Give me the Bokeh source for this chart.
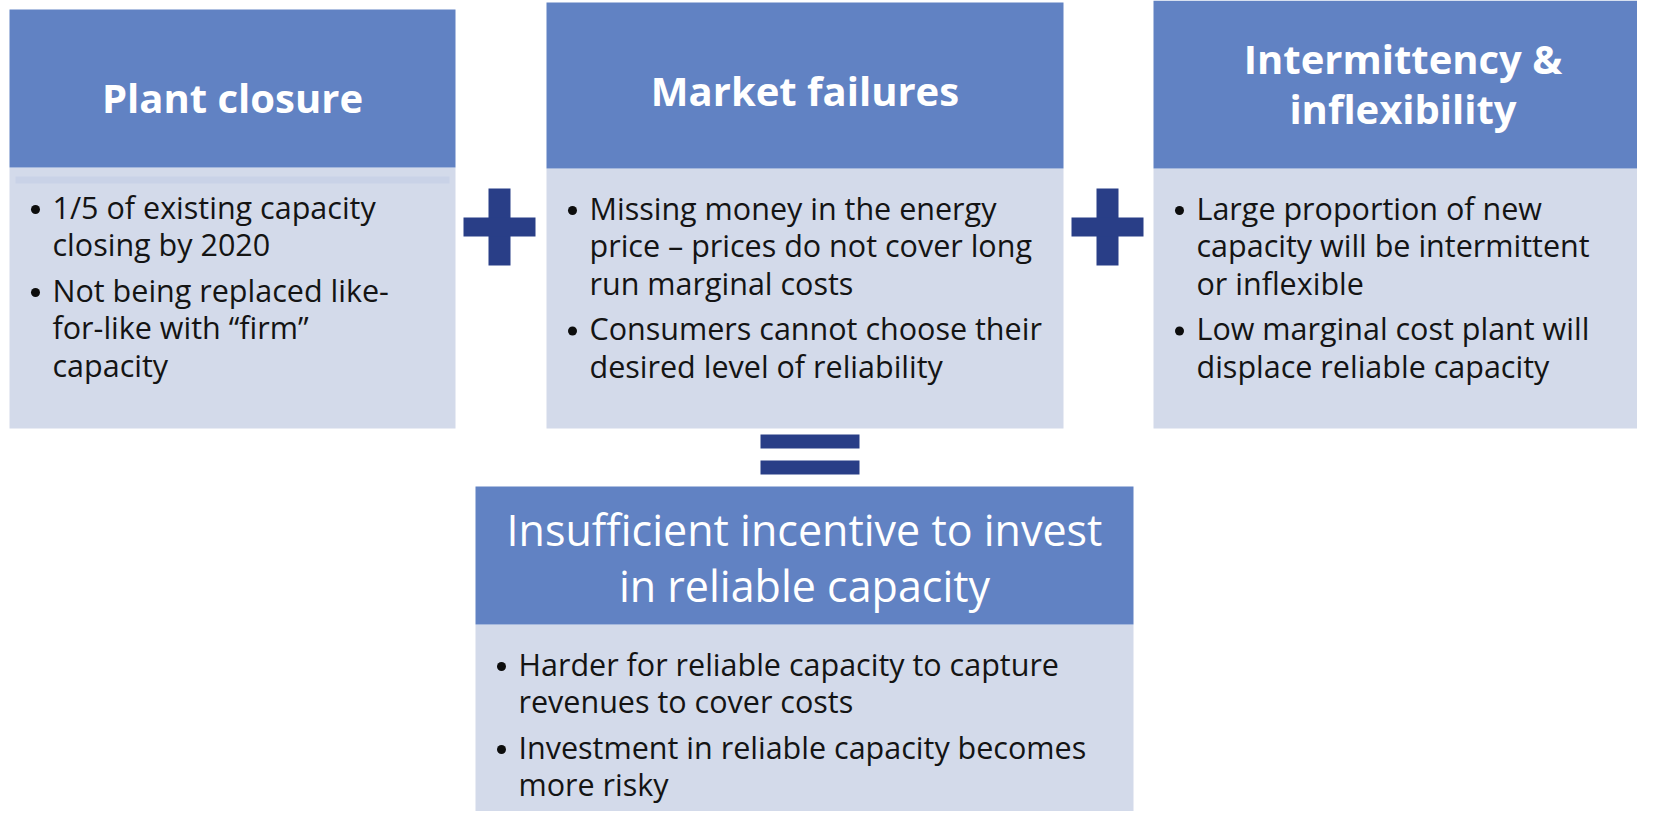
from bokeh.plotting import figure
from bokeh.models import Range1d
from bokeh.embed import file_html
from bokeh.resources import INLINE
from bokeh.core.properties import value

# ---- content ----
titles = [
    ["Plant closure"],
    ["Market failures"],
    ["Intermittency &", "inflexibility"],
    ["Insufficient incentive to invest", "in reliable capacity"],
]
title_bold = [True, True, True, False]
bullets = [
    [["1/5 of existing capacity", "closing by 2020"],
     ["Not being replaced like-", "for-like with \u201cfirm\u201d", "capacity"]],
    [["Missing money in the energy", "price \u2013 prices do not cover long", "run marginal costs"],
     ["Consumers cannot choose their", "desired level of reliability"]],
    [["Large proportion of new", "capacity will be intermittent", "or inflexible"],
     ["Low marginal cost plant will", "displace reliable capacity"]],
    [["Harder for reliable capacity to capture", "revenues to cover costs"],
     ["Investment in reliable capacity becomes", "more risky"]],
]

# ---- layout (pixel coordinates of the picture) ----
box_left = [9, 546, 1153, 475]
box_right = [455, 1063, 1652, 1133]
box_top = [9, 2, 0, 486]
head_bot = [167, 168, 168, 624]
box_bot = [428, 428, 428, 830]
title_y0 = [97, 90, 58, 529]
title_dy = [0, 0, 50, 56]
title_size = ["40px", "40px", "40px", "43px"]

HEAD = "#6182C3"
BODY = "#D3DAEA"
NAVY = "#293E87"
FONT = "Open Sans"

W, H = 1637, 811
p = figure(width=W, height=H, output_backend="svg", toolbar_location=None,
           x_range=Range1d(0, W), y_range=Range1d(H, 0),
           min_border=0, outline_line_color=None, background_fill_color="white",
           border_fill_color="white")
p.axis.visible = False
p.grid.visible = False

# boxes
p.quad(left=box_left, right=box_right, top=head_bot, bottom=box_bot,
       fill_color=BODY, line_color=None)
p.quad(left=box_left, right=box_right, top=box_top, bottom=head_bot,
       fill_color=HEAD, line_color=None)
# faint band under the first header
p.quad(left=[15], right=[449], top=[176], bottom=[183], fill_color="#C9D2E7", line_color=None)

# plus signs
plus_cx = [499, 1107]
p.quad(left=[c - 11 for c in plus_cx], right=[c + 11 for c in plus_cx],
       top=[188, 188], bottom=[265, 265], fill_color=NAVY, line_color=None)
p.quad(left=[c - 36 for c in plus_cx], right=[c + 36 for c in plus_cx],
       top=[217, 217], bottom=[236, 236], fill_color=NAVY, line_color=None)
# equals sign
p.quad(left=[760, 760], right=[859, 859], top=[434, 460], bottom=[448, 474],
       fill_color=NAVY, line_color=None)

# titles
for i, lines in enumerate(titles):
    cx = (box_left[i] + box_right[i]) / 2
    ys = [title_y0[i] + k * title_dy[i] for k in range(len(lines))]
    p.text(x=[cx] * len(lines), y=ys, text=lines, text_color="white",
           text_font=value(FONT), text_font_size=title_size[i],
           text_font_style="bold" if title_bold[i] else "normal",
           text_align="center", text_baseline="middle")

# bullet texts
LINE = 37.5
GAP = 8
for i, groups in enumerate(bullets):
    y = head_bot[i] + 39
    bx, tx, by, ty, tt = [], [], [], [], []
    for g in groups:
        bx.append(box_left[i] + 26)
        by.append(y)
        for line in g:
            tx.append(box_left[i] + 43)
            ty.append(y)
            tt.append(line)
            y += LINE
        y += GAP
    p.text(x=tx, y=ty, text=tt, text_color="#141414", text_font=value(FONT),
           text_font_size="30.5px", text_align="left", text_baseline="middle")
    p.scatter(x=bx, y=[v + 3 for v in by], size=9, marker="circle",
              fill_color="#0d0d0d", line_color=None)

open("out.html", "w").write(file_html(p, INLINE))
